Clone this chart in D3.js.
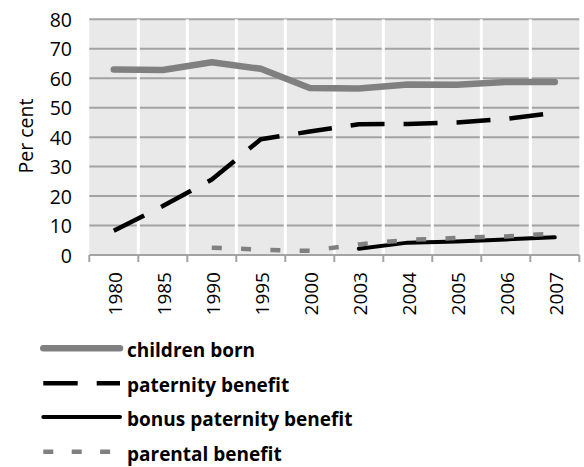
<!DOCTYPE html>
<html>
<head>
<meta charset="utf-8">
<script src="https://cdn.jsdelivr.net/npm/d3@7"></script>
<style>
  html, body { margin: 0; padding: 0; background: #fff; }
  svg { display: block; font-family: "Open Sans", "Liberation Sans", sans-serif; }
</style>
</head>
<body>
<svg id="chart" width="584" height="467"></svg>
<script>
const years = ["1980","1985","1990","1995","2000","2003","2004","2005","2006","2007"];
const childrenBorn = [63.0, 62.8, 65.4, 63.2, 56.7, 56.5, 57.9, 57.8, 58.7, 58.7];
const paternityBenefit = [8.2, 16.6, 25.6, 39.3, 41.9, 44.4, 44.5, 45.0, 46.2, 48.3];
const bonusPaternity = [null, null, null, null, null, 2.1, 4.2, 4.6, 5.3, 6.0];
const parentalBenefit = [null, null, 2.5, 1.8, 1.4, 3.6, 5.1, 5.8, 6.3, 7.3];
const yTicks = [0, 10, 20, 30, 40, 50, 60, 70, 80];

const seriesNames = ["children born", "paternity benefit", "bonus paternity benefit", "parental benefit"];
const seriesStyles = [
  { color: "#808080", width: 6.5, dash: null, cap: "round" },
  { color: "#000000", width: 4.5, dash: "34,19", cap: "butt" },
  { color: "#000000", width: 4, dash: null, cap: "round" },
  { color: "#808080", width: 4.5, dash: "10,19.3", cap: "butt" }
];
const seriesData = [childrenBorn, paternityBenefit, bonusPaternity, parentalBenefit];

const svg = d3.select("#chart");
const plot = { left: 89.3, right: 579.3, top: 19.3, bottom: 255 };

const x = d3.scaleBand().domain(years).range([plot.left, plot.right]).paddingInner(0).paddingOuter(0);
const y = d3.scaleLinear().domain([0, 80]).range([plot.bottom, plot.top]);

// background
svg.append("rect")
  .attr("x", plot.left).attr("y", plot.top)
  .attr("width", plot.right - plot.left).attr("height", plot.bottom - plot.top)
  .attr("fill", "#e9e9e9");

// horizontal gridlines
svg.append("g").selectAll("line").data(yTicks.filter(d => d > 0)).join("line")
  .attr("x1", plot.left).attr("x2", plot.right)
  .attr("y1", d => y(d)).attr("y2", d => y(d))
  .attr("stroke", "#a3a3a3").attr("stroke-width", 2);

// vertical white gridlines at category boundaries
const bounds = years.slice(1).map(d => x(d));
svg.append("g").selectAll("line").data(bounds).join("line")
  .attr("x1", d => d).attr("x2", d => d)
  .attr("y1", plot.top).attr("y2", plot.bottom)
  .attr("stroke", "#ffffff").attr("stroke-width", 3);

// x axis
svg.append("line")
  .attr("x1", plot.left).attr("x2", plot.right)
  .attr("y1", plot.bottom).attr("y2", plot.bottom)
  .attr("stroke", "#a3a3a3").attr("stroke-width", 2);
const tickXs = years.map(d => x(d)).concat([plot.right]);
svg.append("g").selectAll("line").data(tickXs).join("line")
  .attr("x1", d => d).attr("x2", d => d)
  .attr("y1", plot.bottom).attr("y2", plot.bottom + 7)
  .attr("stroke", "#a3a3a3").attr("stroke-width", 2);

svg.append("g").selectAll("text").data(years).join("text")
  .attr("transform", d => `translate(${x(d) + x.bandwidth() / 2 + 1.5},${plot.bottom + 17}) rotate(-90)`)
  .attr("text-anchor", "end")
  .attr("dominant-baseline", "central")
  .attr("font-size", 19)
  .attr("fill", "#000")
  .text(d => d);

// y axis labels
svg.append("g").selectAll("text").data(yTicks).join("text")
  .attr("x", 72).attr("y", d => y(d))
  .attr("text-anchor", "end")
  .attr("dominant-baseline", "central")
  .attr("font-size", 19.5)
  .attr("fill", "#000")
  .text(d => d);

svg.append("text")
  .attr("transform", `translate(25,136) rotate(-90)`)
  .attr("text-anchor", "middle")
  .attr("dominant-baseline", "central")
  .attr("font-size", 19.5)
  .attr("fill", "#000")
  .text("Per cent");

// series lines
const cx = d => x(d) + x.bandwidth() / 2;
seriesData.forEach((vals, i) => {
  const st = seriesStyles[i];
  const pts = years.map((yr, j) => ({ yr, v: vals[j] }));
  const line = d3.line()
    .defined(d => d.v !== null)
    .x(d => cx(d.yr))
    .y(d => y(d.v));
  svg.append("path")
    .datum(pts)
    .attr("d", line)
    .attr("fill", "none")
    .attr("stroke", st.color)
    .attr("stroke-width", st.width)
    .attr("stroke-linecap", st.cap)
    .attr("stroke-linejoin", "round")
    .attr("stroke-dasharray", st.dash);
});

// legend
const legendRows = [348.3, 383.3, 417, 451.7];
const lg = svg.append("g");
seriesNames.forEach((name, i) => {
  const st = seriesStyles[i];
  const yy = legendRows[i];
  lg.append("line")
    .attr("x1", 43.3)
    .attr("x2", 120)
    .attr("y1", yy).attr("y2", yy)
    .attr("stroke", st.color)
    .attr("stroke-width", st.width)
    .attr("stroke-linecap", st.cap)
    .attr("stroke-dasharray", i === 1 ? "34.4,19" : (i === 3 ? "10,18.4" : null));
  lg.append("text")
    .attr("x", 127).attr("y", yy + 2)
    .attr("dominant-baseline", "central")
    .attr("font-size", 19)
    .attr("font-weight", "bold")
    .attr("fill", "#000")
    .text(name);
});
</script>
</body>
</html>
